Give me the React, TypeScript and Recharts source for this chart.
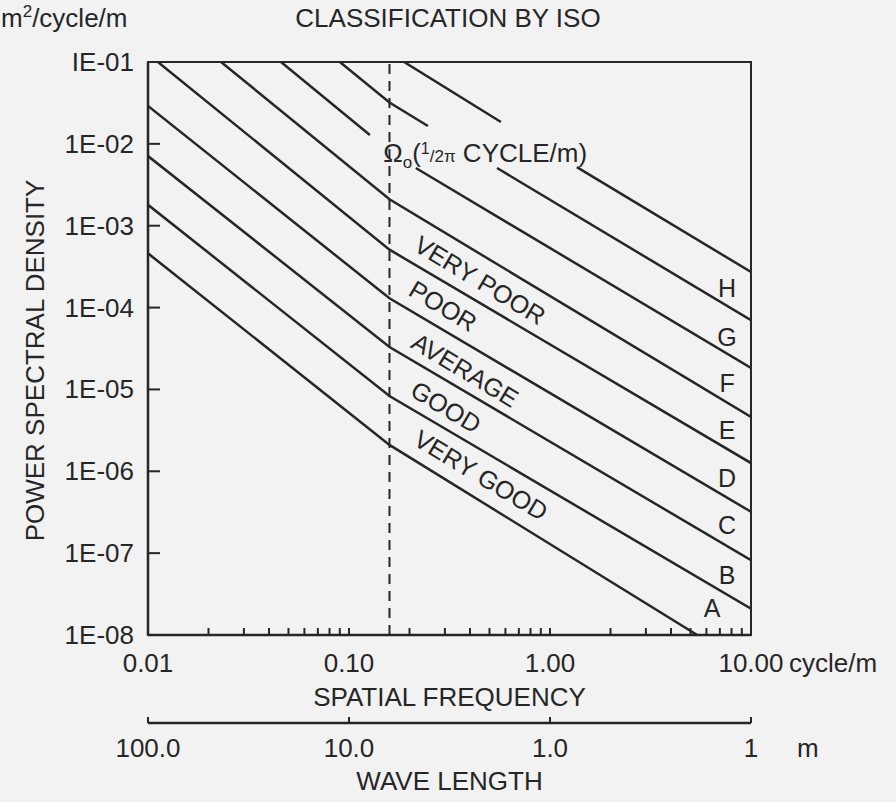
import { LineChart, Line, XAxis, YAxis, ReferenceLine, ReferenceArea, ReferenceDot, Label } from "recharts";

const FONT = '"Liberation Sans", Arial, Helvetica, sans-serif';
const INK = "#262626";

// class boundaries: spatial frequency (cycle/m) at each corner of the line
const BOUNDARY_N: number[][] = [
  [0.01, 0.159, 5.4],
  [0.01, 0.159, 10],
  [0.01, 0.159, 10],
  [0.01, 0.159, 10],
  [0.0112, 0.159, 10],
  [0.0231, 0.159, 10],
  [0.0459, 0.127, 0.17, 0.215, 10],
  [0.0901, 0.159, 0.247, 0.4, 0.545, 10],
  [0.188, 0.57, 1.0, 1.36, 10],
];
// PSD (m2/cycle/m) at the same corners; null breaks the line under the Ω0 note
const BOUNDARY_PSD: (number | null)[][] = [
  [4.6e-4, 2.1e-6, 1e-8],
  [1.8e-3, 8.3e-6, 2.1e-8],
  [7.1e-3, 3.3e-5, 8.2e-8],
  [2.9e-2, 1.3e-4, 3.2e-7],
  [0.1, 5.1e-4, 1.26e-6],
  [0.1, 2.1e-3, 4.6e-6],
  [0.1, 1.28e-2, null, 5.07e-3, 1.83e-5],
  [0.1, 3.2e-2, 1.65e-2, null, 5.07e-3, 7.0e-5],
  [0.1, 1.85e-2, null, 5.2e-3, 2.72e-4],
];

const N0 = 0.159; // 1/2π cycle/m

const CLASS_NAMES = ["VERY GOOD", "GOOD", "AVERAGE", "POOR", "VERY POOR"];
const CLASS_LETTERS = ["A", "B", "C", "D", "E", "F", "G", "H"];

const FREQ_TICKS = [
  0.01, 0.02, 0.03, 0.04, 0.05, 0.06, 0.07, 0.08, 0.09,
  0.1, 0.2, 0.3, 0.4, 0.5, 0.6, 0.7, 0.8, 0.9,
  1, 2, 3, 4, 5, 6, 7, 8, 9, 10,
];
const DECADES = [0.01, 0.1, 1, 10];
const FREQ_LABELS = ["0.01", "0.10", "1.00", "10.00"];
const WAVE_LABELS = ["100.0", "10.0", "1.0", "1"];
const PSD_TICKS = [1e-1, 1e-2, 1e-3, 1e-4, 1e-5, 1e-6, 1e-7, 1e-8];
const PSD_LABELS = ["IE-01", "1E-02", "1E-03", "1E-04", "1E-05", "1E-06", "1E-07", "1E-08"];

// where the band names and letters sit (n, psd)
const CLASS_NAME_AT = [
  [0.454, 9.0e-7],
  [0.304, 6.1e-6],
  [0.378, 1.73e-5],
  [0.294, 1.05e-4],
  [0.449, 2.17e-4],
];
const LETTER_AT = [
  [6.4, 2.14e-8],
  [7.6, 5.4e-8],
  [7.6, 2.2e-7],
  [7.6, 8.3e-7],
  [7.6, 3.2e-6],
  [7.6, 1.2e-5],
  [7.6, 4.37e-5],
  [7.6, 1.73e-4],
];

const boundaries = BOUNDARY_N.map((ns, i) => ns.map((n, j) => ({ n, psd: BOUNDARY_PSD[i][j] })));

const txt = { fontFamily: FONT, fill: INK } as const;

function FreqTick({ x, y, payload }: any) {
  const i = DECADES.indexOf(payload.value);
  return (
    <g>
      <line x1={x} y1={y} x2={x} y2={y - 7} stroke={INK} strokeWidth={2} />
      {i >= 0 && (
        <text x={x} y={y + 37} textAnchor="middle" fontSize={26} {...txt}>
          {FREQ_LABELS[i]}
        </text>
      )}
      {i === DECADES.length - 1 && (
        <text x={x + 38} y={y + 37} fontSize={26} {...txt}>
          cycle/m
        </text>
      )}
    </g>
  );
}

function WaveTick({ x, y, payload }: any) {
  const i = DECADES.indexOf(payload.value);
  return (
    <g>
      <line x1={x} y1={y} x2={x} y2={y - 6} stroke={INK} strokeWidth={2} />
      <text x={x} y={y + 34} textAnchor="middle" fontSize={26} {...txt}>
        {WAVE_LABELS[i]}
      </text>
      {i === DECADES.length - 1 && (
        <text x={x + 46} y={y + 34} fontSize={26} {...txt}>
          m
        </text>
      )}
    </g>
  );
}

function PsdTick({ x, y, payload }: any) {
  const i = PSD_TICKS.indexOf(payload.value);
  return (
    <g>
      <line x1={x} y1={y} x2={x + 12} y2={y} stroke={INK} strokeWidth={2} />
      <text x={x - 14} y={y + 9} textAnchor="end" fontSize={26} {...txt}>
        {PSD_LABELS[i]}
      </text>
    </g>
  );
}

export default function App() {
  return (
    <div
      style={{
        position: "absolute",
        left: 0,
        top: 0,
        width: 896,
        height: 802,
        background: "#f2f2f2",
        color: INK,
        fontFamily: FONT,
      }}
    >
      <div style={{ position: "absolute", left: 1, top: 3, fontSize: 26, lineHeight: "30px" }}>
        m<span style={{ fontSize: 17, position: "relative", top: -10 }}>2</span>/cycle/m
      </div>
      <div
        style={{
          position: "absolute",
          left: 0,
          width: 896,
          top: 3,
          fontSize: 26,
          lineHeight: "30px",
          textAlign: "center",
        }}
      >
        CLASSIFICATION BY ISO
      </div>
      <LineChart width={896} height={802} margin={{ top: 62, right: 145, bottom: 0, left: 0 }}>
        <XAxis
          xAxisId="freq"
          dataKey="n"
          type="number"
          scale="log"
          domain={[0.01, 10]}
          allowDataOverflow
          ticks={FREQ_TICKS}
          interval={0}
          tickSize={0}
          tickMargin={0}
          tickLine={false}
          tick={<FreqTick />}
          height={88}
          axisLine={{ stroke: INK, strokeWidth: 2.5 }}
        >
          <Label
            content={({ viewBox }: any) => (
              <text
                x={viewBox.x + viewBox.width / 2}
                y={viewBox.y + 71}
                textAnchor="middle"
                fontSize={26}
                {...txt}
              >
                SPATIAL FREQUENCY
              </text>
            )}
          />
        </XAxis>
        <XAxis
          xAxisId="wave"
          dataKey="n"
          type="number"
          scale="log"
          domain={[0.01, 10]}
          allowDataOverflow
          ticks={DECADES}
          interval={0}
          tickSize={0}
          tickMargin={0}
          tickLine={false}
          tick={<WaveTick />}
          height={79}
          axisLine={{ stroke: INK, strokeWidth: 2.5 }}
        >
          <Label
            content={({ viewBox }: any) => (
              <text
                x={viewBox.x + viewBox.width / 2}
                y={viewBox.y + 67}
                textAnchor="middle"
                fontSize={26}
                {...txt}
              >
                WAVE LENGTH
              </text>
            )}
          />
        </XAxis>
        <YAxis
          type="number"
          scale="log"
          domain={[1e-8, 0.1]}
          allowDataOverflow
          ticks={PSD_TICKS}
          interval={0}
          tickSize={0}
          tickMargin={0}
          tickLine={false}
          tick={<PsdTick />}
          width={148}
          axisLine={{ stroke: INK, strokeWidth: 2.5 }}
        >
          <Label
            content={({ viewBox }: any) => {
              const cx = viewBox.x + 44;
              const cy = viewBox.y + viewBox.height / 2 + 12;
              return (
                <text
                  x={cx}
                  y={cy}
                  transform={`rotate(-90 ${cx} ${cy})`}
                  textAnchor="middle"
                  fontSize={26}
                  {...txt}
                >
                  POWER SPECTRAL DENSITY
                </text>
              );
            }}
          />
        </YAxis>

        <ReferenceArea
          xAxisId="freq"
          x1={0.01}
          x2={10}
          y1={1e-8}
          y2={0.1}
          fill="none"
          stroke={INK}
          strokeWidth={2}
        />
        <ReferenceLine xAxisId="freq" x={N0} stroke={INK} strokeWidth={2} strokeDasharray="10 7" />

        {boundaries.map((pts, i) => (
          <Line
            key={i}
            xAxisId="freq"
            data={pts}
            dataKey="psd"
            type="linear"
            dot={false}
            activeDot={false}
            stroke={INK}
            strokeWidth={2.5}
            isAnimationActive={false}
          />
        ))}

        <ReferenceDot
          xAxisId="freq"
          x={0.148}
          y={6.0e-3}
          r={0}
          shape={(p: any) => (
            <text x={p.cx} y={p.cy} fontSize={26} {...txt}>
              <tspan>Ω</tspan>
              <tspan fontSize={17} dy={6}>o</tspan>
              <tspan dy={-6}>(</tspan>
              <tspan fontSize={16} dy={-8}>1</tspan>
              <tspan fontSize={17} dy={8}>/</tspan>
              <tspan fontSize={17}>2π</tspan>
              <tspan> CYCLE/m)</tspan>
            </text>
          )}
        />

        {CLASS_NAMES.map((name, i) => (
          <ReferenceDot
            key={name}
            xAxisId="freq"
            x={CLASS_NAME_AT[i][0]}
            y={CLASS_NAME_AT[i][1]}
            r={0}
            shape={(p: any) => (
              <text
                x={p.cx}
                y={p.cy}
                transform={`rotate(31 ${p.cx} ${p.cy})`}
                textAnchor="middle"
                dominantBaseline="central"
                fontSize={25}
                {...txt}
              >
                {name}
              </text>
            )}
          />
        ))}

        {CLASS_LETTERS.map((letter, i) => (
          <ReferenceDot
            key={letter}
            xAxisId="freq"
            x={LETTER_AT[i][0]}
            y={LETTER_AT[i][1]}
            r={0}
            shape={(p: any) => (
              <text
                x={p.cx}
                y={p.cy}
                textAnchor="middle"
                dominantBaseline="central"
                fontSize={25}
                {...txt}
              >
                {letter}
              </text>
            )}
          />
        ))}
      </LineChart>
    </div>
  );
}
